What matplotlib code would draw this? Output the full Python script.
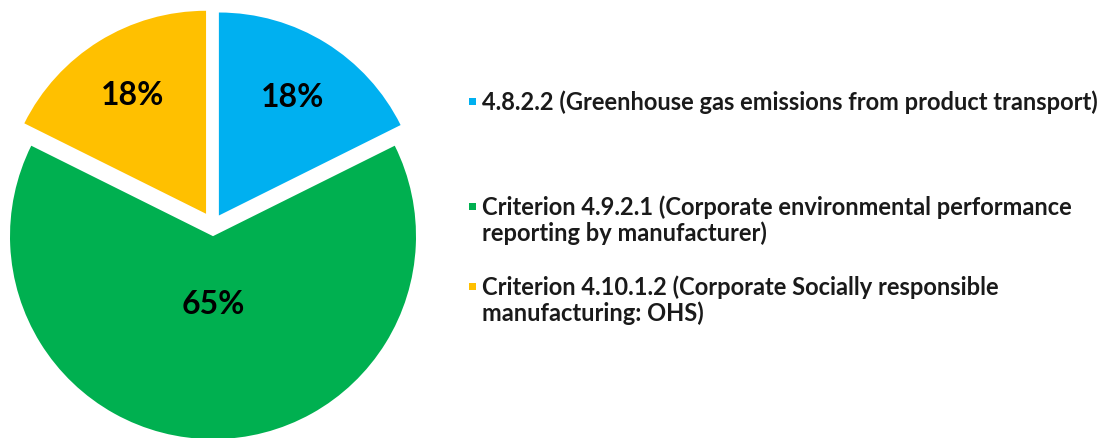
import numpy as np
import matplotlib.pyplot as plt
from matplotlib.patches import Rectangle

labels = ['4.8.2.2 (Greenhouse gas emissions from product transport)',
          'Criterion 4.9.2.1 (Corporate environmental performance\nreporting by manufacturer)',
          'Criterion 4.10.1.2 (Corporate Socially responsible\nmanufacturing: OHS)']
values = [17.65, 64.7, 17.65]
pct_text = ['18%', '65%', '18%']
colors = ['#00B0F0', '#00B050', '#FFC000']

plt.rcParams['font.family'] = ['Lato', 'DejaVu Sans']

fig = plt.figure(figsize=(11.14, 4.39), dpi=100)

# pie axes: 1 data unit = R pixels
R = 203.0
cx, cy = 213.0, 439 - 226.0
ax = fig.add_axes([0, 0, 430 / 1114, 1])
wedges, _ = ax.pie(values, colors=colors, startangle=90, counterclock=False,
                   explode=[0.055, 0.055, 0.065], radius=1,
                   wedgeprops=dict(linewidth=0))
ax.set_xlim(-cx / R, (430 - cx) / R)
ax.set_ylim(-cy / R, (439 - cy) / R)
ax.set_aspect('equal')
ax.axis('off')

# percent labels
dists = [0.69, 0.33, 0.69]
for w, t, d in zip(wedges, pct_text, dists):
    mid = np.deg2rad((w.theta1 + w.theta2) / 2)
    x0, y0 = w.center
    ax.text(x0 + d * np.cos(mid), y0 + d * np.sin(mid), t, ha='center', va='center',
            fontsize=23, fontweight='bold', color='black')

# legend
ys = [102, 220, 300]
for lab, col, y in zip(labels, colors, ys):
    fy = 1 - y / 439
    fig.text(482 / 1114, fy, lab, ha='left', va='center', fontsize=17,
             fontweight='bold', color='#1a1a1a', linespacing=1.1)
    first = fy + (13 / 439 if '\n' in lab else 0)
    fig.add_artist(Rectangle((469 / 1114, first - 3.5 / 439), 7 / 1114, 7 / 439,
                             transform=fig.transFigure, color=col, lw=0))

fig.savefig('out.png', dpi=100)
